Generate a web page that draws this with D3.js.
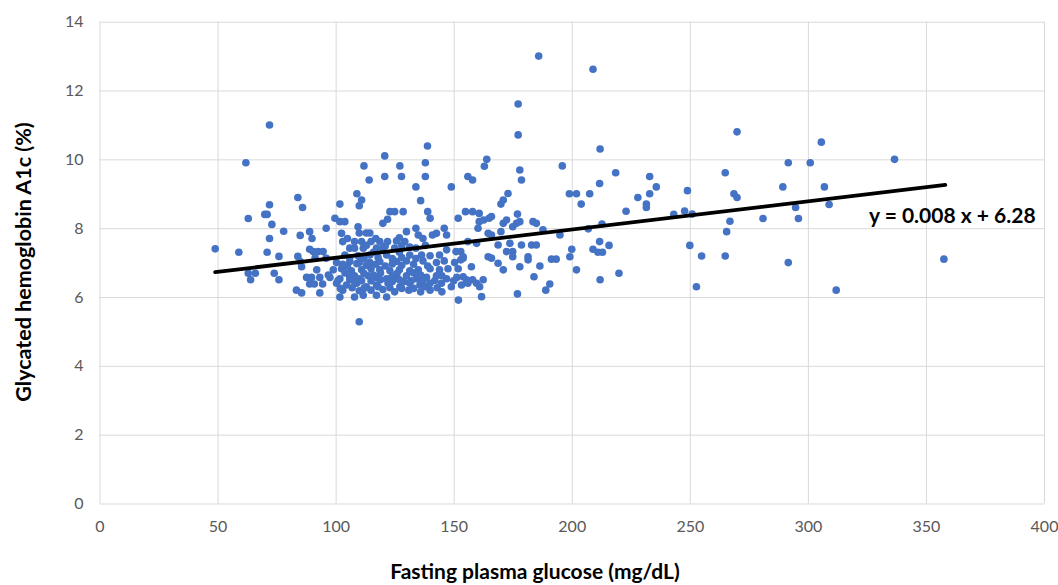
<!DOCTYPE html>
<html><head><meta charset="utf-8">
<script src="https://cdn.jsdelivr.net/npm/d3@7"></script>
<style>
html,body{margin:0;padding:0;background:#fff;}
svg{display:block;}
.tick text{font-family:Lato,"Open Sans",sans-serif;font-size:16px;fill:#595959;}
</style></head>
<body>
<svg id="c" width="1058" height="585"></svg>
<script>
// ---- data ----
const xTicks = [0,50,100,150,200,250,300,350,400];
const yTicks = [0,2,4,6,8,10,12,14];
const xTitle = "Fasting plasma glucose (mg/dL)";
const yTitle = "Glycated hemoglobin A1c (%)";
const trendLabel = "y = 0.008 x + 6.28";
const trendSlope = 0.0082;
const trendIntercept = 6.32;
const trendRange = [49, 358.2];

const glucose = [
49,59,63,70,71,72,73,72,71,76,78,84,86,85,84,74,76,63,66,64,62,72,
89,90,89,96,90.5,92.6,94.7,91.3,96,85.6,92,87.7,89.8,93.3,89,91,94.5,83.4,85.6,93.3,96.9,85,
109,111,110,101.8,136,123,125,128.6,139,140,151.9,155,99.7,101.8,103.9,120,122,109.5,102.5,103,110,113,114.5,134,130,146,135,137,141,142.7,147,
108,111,115,118.7,122,125.8,129.3,
106,108,111.7,117.3,120,125,131.4,134,
103.9,109.5,114.5,121.6,131.4,136.4,140,144,
147,151,153,154,
100.4,106,110,114.5,118.7,125.8,130,137,142.7,146,150.4,
99,102.5,106.7,111,115,118.7,123,127,131.4,135,140,144,147.6,151.9,
97.6,101.8,106,110,113.8,117.3,121.6,125.8,130,134.3,138.5,142.7,147,151.3,
100.4,104.6,108.9,113,117.3,122.2,127.2,131.4,135.7,140,144.8,149,153.3,
101.8,108,111.7,117.3,121.6,128,152,110,
104,112,119,126,133,108,115,124,129,137,103,110,115,120,125,105,113,121,128,116,127,112,124,131,136,140,145,
102,107,112,118,123,133,138,143,101,106,111,119,127,132,142,150,108,116,124,136,145,103,109,117,124,133,139,106,118,128,134,113,121,128,138,105,117,127,
173,171,170,199,202,207.6,204,
158,160.8,160.8,162.7,165,166,177,
171,172.4,175,176.6,178,183.6,185,
160.3,164.6,166,170,187.8,195,
156,159.7,168.8,173.8,178.7,183,185,
164.6,166,168.8,172.4,175,175,181.5,181.5,
171,178,186.5,191.4,193.4,199.2,200,184,190.7,189,202,177,161.8,
154,153,154,155.4,157.5,158,159.7,161,162.5,156,
112,120.8,114.2,120.8,127.2,127.9,138.9,138,138,134,149,156,158,164,163,177.3,177.3,178,178.7,196,212,211.8,186,
209,270,218.6,265,291.7,233,235.8,228,231.6,231.6,233,249,268.7,270,289.4,294.8,296,281,267,265.6,223,243.2,247.8,251,212.8,207,
211.8,209,211.1,213,215.8,220,212,250,255,265,252.8,291.7,
305.7,301,336.7,307,309,312,357.6
];
const hba1c = [
7.4,7.3,8.28,8.4,8.4,8.68,8.11,7.7,7.3,7.18,7.91,8.89,8.6,7.79,7.18,6.69,6.5,6.69,6.69,6.5,9.9,11.0,
7.9,7.7,7.39,8.0,7.32,7.32,7.32,7.13,7.13,6.88,6.79,6.57,6.57,6.57,6.38,6.38,6.38,6.2,6.12,6.12,6.64,7.03,
9.0,8.82,8.65,8.7,8.8,8.48,8.48,8.48,8.48,8.29,8.29,8.48,8.29,8.19,8.19,8.14,8.26,8.04,7.85,7.61,7.86,7.86,7.86,8.0,7.9,8.0,7.8,7.7,7.8,7.85,7.8,
7.61,7.61,7.61,7.61,7.61,7.63,7.61,
7.42,7.42,7.42,7.42,7.42,7.42,7.45,7.42,
7.22,7.2,7.22,7.22,7.22,7.22,7.2,7.22,
7.37,7.32,7.32,7.13,
7.0,7.03,7.0,7.0,7.03,7.03,7.05,7.05,7.0,7.05,7.0,
6.79,6.82,6.76,6.79,6.82,6.79,6.76,6.79,6.76,6.79,6.82,6.79,6.82,6.82,
6.57,6.53,6.57,6.53,6.62,6.57,6.53,6.57,6.62,6.53,6.57,6.62,6.53,6.57,
6.4,6.35,6.4,6.3,6.35,6.4,6.3,6.4,6.35,6.4,6.4,6.3,6.35,
6.0,6.0,6.05,6.05,6.0,6.25,5.91,5.28,
6.7,6.68,6.7,6.68,6.7,6.45,6.47,6.45,6.45,6.47,6.2,6.18,6.2,6.22,6.15,6.9,6.92,6.9,6.92,7.3,7.3,7.12,7.12,6.2,6.15,6.2,6.15,
6.25,6.27,6.25,6.3,6.27,6.25,6.3,6.27,6.48,6.5,6.47,6.5,6.5,6.47,6.48,6.47,6.62,6.64,6.6,6.64,6.62,6.95,6.97,6.95,6.96,6.95,6.9,7.15,7.15,7.15,7.12,7.5,7.48,7.5,7.5,7.7,7.7,7.72,
9.01,8.82,8.7,9.0,9.0,9.0,8.7,
8.48,8.43,8.19,8.24,8.29,8.34,8.41,
8.14,8.24,8.04,8.14,8.19,8.19,8.14,
8.0,7.85,7.8,7.9,7.95,7.8,
7.61,7.56,7.51,7.56,7.51,7.51,7.51,
7.17,7.13,6.98,7.32,7.32,7.17,7.17,7.08,
6.79,6.88,6.9,7.1,7.1,7.17,7.39,6.59,6.38,6.2,6.79,6.09,6.01,
7.17,7.08,6.59,6.5,6.88,6.5,6.4,6.3,6.5,6.4,
9.81,10.1,9.4,9.5,9.81,9.5,10.39,9.9,9.5,9.2,9.2,9.5,9.4,10.0,9.8,11.61,10.71,9.69,9.4,9.81,10.3,9.3,13.0,
12.62,10.8,9.61,9.61,9.9,9.5,9.2,8.89,8.7,8.6,9.0,9.09,9.0,8.89,9.2,8.6,8.28,8.28,8.2,7.9,8.49,8.4,8.5,8.41,8.12,7.98,
7.61,7.39,7.3,7.3,7.5,6.69,6.5,7.5,7.19,7.19,6.3,7.0,
10.5,9.9,10.0,9.2,8.69,6.2,7.1
];

// ---- chart ----
const svg = d3.select("#c");
const x = d3.scaleLinear().domain([0,400]).range([99.5,1044]);
const y = d3.scaleLinear().domain([0,14]).range([503.5,21.7]);

// grid
svg.append("g").attr("transform",`translate(0,${y(0)})`)
  .call(d3.axisBottom(x).tickValues(xTicks).tickSize(-(y(0)-y(14))).tickFormat(""))
  .call(g=>g.select(".domain").remove())
  .call(g=>g.selectAll("line").attr("stroke","#d9d9d9").attr("stroke-width",1));
svg.append("g").attr("transform",`translate(${x(0)},0)`)
  .call(d3.axisLeft(y).tickValues(yTicks).tickSize(-(x(400)-x(0))).tickFormat(""))
  .call(g=>g.select(".domain").remove())
  .call(g=>g.selectAll("line").attr("stroke","#d9d9d9").attr("stroke-width",1));

// tick labels
svg.append("g").attr("transform",`translate(0,${y(0)+17})`)
  .call(d3.axisBottom(x).tickValues(xTicks).tickSize(0).tickPadding(0))
  .call(g=>g.select(".domain").remove())
  .selectAll("text").attr("dy","0.71em");
svg.append("g").attr("transform",`translate(${x(0)-16},0)`)
  .call(d3.axisLeft(y).tickValues(yTicks).tickSize(0).tickPadding(0))
  .call(g=>g.select(".domain").remove());

// points
const pts = glucose.map((g,i)=>({g, h:hba1c[i]}));
svg.append("g").selectAll("circle").data(pts).join("circle")
  .attr("cx",d=>x(d.g)).attr("cy",d=>y(d.h)).attr("r",3.8)
  .attr("fill","#4472C4");

// trend line
const line = d3.line().x(d=>x(d)).y(d=>y(trendIntercept+trendSlope*d));
svg.append("path").attr("d",line(trendRange))
  .attr("stroke","#000").attr("stroke-width",3.8).attr("fill","none").attr("stroke-linecap","round");

svg.append("text").attr("x",869).attr("y",223)
  .attr("font-family","Lato,'Open Sans',sans-serif").attr("font-weight","bold").attr("font-size",21)
  .attr("fill","#000").text(trendLabel);

// axis titles
svg.append("text").attr("x",535).attr("y",579).attr("text-anchor","middle")
  .attr("font-family","Lato,'Open Sans',sans-serif").attr("font-weight","bold").attr("font-size",21)
  .attr("fill","#000").text(xTitle);
svg.append("text").attr("transform","translate(31,262) rotate(-90)").attr("text-anchor","middle")
  .attr("font-family","Lato,'Open Sans',sans-serif").attr("font-weight","bold").attr("font-size",21.5)
  .attr("fill","#000").text(yTitle);
</script>
</body></html>
